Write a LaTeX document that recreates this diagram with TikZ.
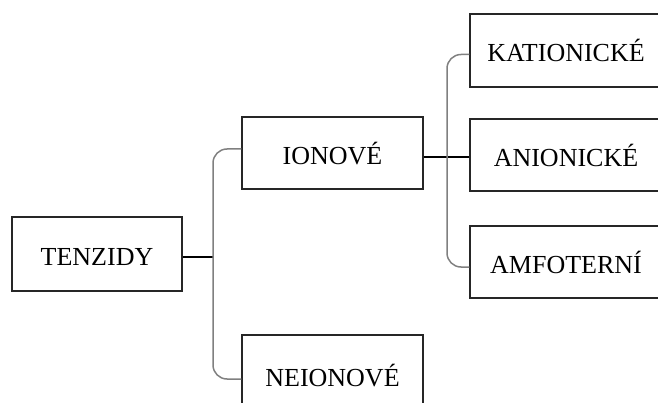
\documentclass[tikz,border=0pt]{standalone}
\usepackage{fontspec}
\setmainfont{Liberation Serif}
\begin{document}
\begin{tikzpicture}[x=1pt,y=-1pt,
        box/.style={draw=black!85,line width=1.3pt,minimum width=181pt,minimum height=72pt,inner sep=0pt,text height=23pt,text depth=0pt,font=\fontsize{26}{30}\selectfont},
        stem/.style={line width=2.3pt},
        brace/.style={draw=black!50,line width=1.5pt,rounded corners=14pt}]
        \clip (0,0) rectangle (658,403);
        \node[box,minimum width=170pt,minimum height=74pt] (tenzidy) at (97,254) {TENZIDY};
        \node[box] (ionove) at (332.5,153) {IONOVÉ};
        \node[box,minimum height=80pt] (neionove) at (332.5,375) {NEIONOVÉ};
        \node[box,minimum width=192pt,minimum height=73pt] (kationicke) at (566,50.5) {KATIONICKÉ};
        \node[box,minimum width=192pt] (anionicke) at (566,155) {ANIONICKÉ};
        \node[box,minimum width=192pt] (amfoterni) at (566,262) {AMFOTERNÍ};
        \coordinate (fork1) at (213,257);
        \coordinate (fork2) at (447,157);
        \draw[stem] ([yshift=-3pt]tenzidy.east) -- (fork1);
        \draw[brace] ([yshift=4pt]ionove.west) -| (fork1) |- ([yshift=-4pt]neionove.west);
        \draw[stem] ([yshift=-4pt]ionove.east) -- ([yshift=-4pt]ionove.east -| anionicke.west);
        \draw[brace] ([yshift=-4pt]kationicke.west) -| (fork2) |- ([yshift=-5pt]amfoterni.west);
\end{tikzpicture}
\end{document}
